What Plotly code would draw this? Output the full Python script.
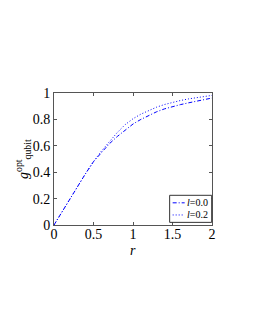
import plotly.graph_objects as go

r_vals = [0.0, 0.1, 0.2, 0.3, 0.4, 0.5, 0.6, 0.7, 0.8, 0.9, 1.0,
          1.1, 1.2, 1.3, 1.4, 1.5, 1.6, 1.7, 1.8, 1.9, 2.0]
g_l00 = [0.0, 0.10, 0.20, 0.30, 0.39, 0.48, 0.55, 0.615, 0.67, 0.72, 0.765,
         0.80, 0.83, 0.858, 0.88, 0.898, 0.912, 0.925, 0.938, 0.95, 0.962]
g_l02 = [0.0, 0.10, 0.20, 0.30, 0.39, 0.48, 0.56, 0.63, 0.70, 0.76, 0.805,
         0.84, 0.868, 0.893, 0.913, 0.93, 0.943, 0.955, 0.965, 0.974, 0.982]
x_ticks = [0, 0.5, 1, 1.5, 2]
x_tick_labels = ["0", "0.5", "1", "1.5", "2"]
y_ticks = [0, 0.2, 0.4, 0.6, 0.8, 1]
y_tick_labels = ["0", "0.2", "0.4", "0.6", "0.8", "1"]
series_names = ["<i>l</i>=0.0", "<i>l</i>=0.2"]
x_title = "<i>r</i>"
y_title = "<i>g</i><sup>opt</sup><sub>qubit</sub>"

font = "Liberation Serif, Times New Roman, serif"
blue = "#0000ff"
dashes = ["4px,2px,1px,2px", "1px,2px"]

fig = go.Figure()
for ys, name, dash in zip([g_l00, g_l02], series_names, dashes):
    fig.add_trace(go.Scatter(x=r_vals, y=ys, mode="lines", name=name, showlegend=False,
                             line=dict(color=blue, width=1, dash=dash)))

axis_common = dict(showline=True, linecolor="#555555", linewidth=1, mirror="ticks",
                   ticks="inside", ticklen=3, tickcolor="#555555", showgrid=False,
                   zeroline=False, automargin=False,
                   tickfont=dict(family=font, size=14, color="black"))

fig.update_xaxes(range=[0, 2], tickvals=x_ticks, ticktext=x_tick_labels,
                 ticklabelstandoff=-4, **axis_common)
fig.update_yaxes(range=[0, 1], tickvals=y_ticks, ticktext=y_tick_labels,
                 ticklabelstandoff=0, **axis_common)

# compact legend box (drawn in plot-area paper coordinates)
shapes = [dict(type="rect", xref="paper", yref="paper", x0=0.732, x1=0.998, y0=0.02, y1=0.225,
               line=dict(color="#333333", width=1), fillcolor="white", layer="above")]
annotations = []
for i, (name, dash) in enumerate(zip(series_names, dashes)):
    yy = 0.168 - i * 0.092
    shapes.append(dict(type="line", xref="paper", yref="paper", x0=0.751, x1=0.827, y0=yy, y1=yy,
                       line=dict(color=blue, width=1, dash=dash), layer="above"))
    annotations.append(dict(xref="paper", yref="paper", x=0.83, y=yy, xanchor="left",
                            yanchor="middle", text=name, showarrow=False,
                            font=dict(family=font, size=10, color="black")))

# axis titles
annotations.append(dict(xref="paper", yref="paper", x=0.5, y=0, yshift=-25,
                        xanchor="center", yanchor="middle", text=x_title, showarrow=False,
                        font=dict(family=font, size=14, color="black")))
annotations.append(dict(xref="paper", yref="paper", x=0, y=0.5, xshift=-31,
                        xanchor="center", yanchor="middle", text=y_title, showarrow=False,
                        textangle=-90, font=dict(family=font, size=14, color="black")))

fig.update_layout(
    width=255, height=330,
    margin=dict(l=46, r=51, t=85, b=113),
    paper_bgcolor="white", plot_bgcolor="white",
    font=dict(family=font, size=12, color="black"),
    showlegend=False,
    shapes=shapes, annotations=annotations,
)

fig.write_html("out.html")
